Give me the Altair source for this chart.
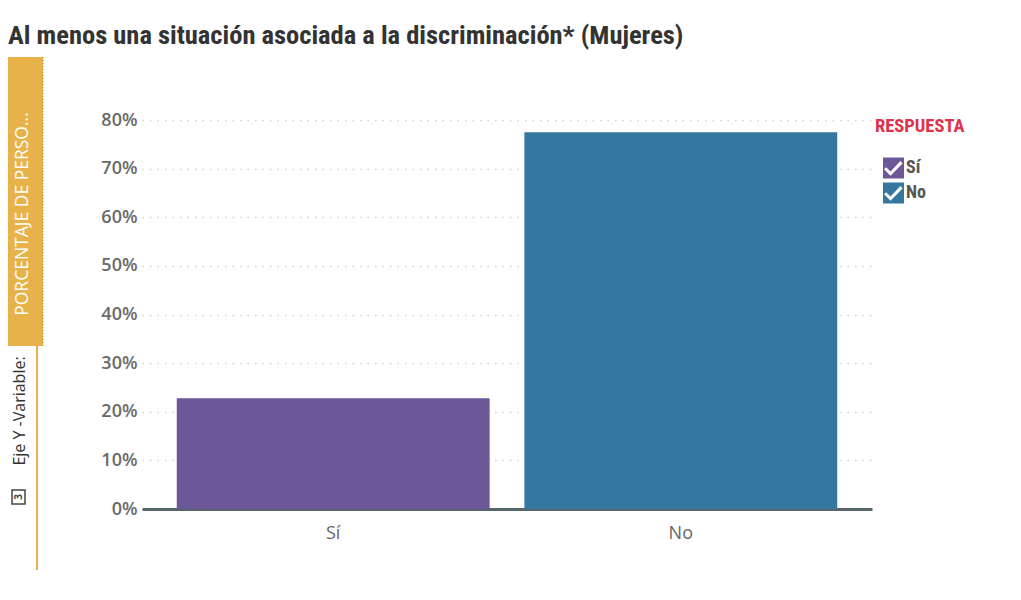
import altair as alt
import pandas as pd

# ---- data ----
categories = ["Sí", "No"]
values = [0.228, 0.775]
bar_colors = ["#6C5899", "#35779F"]
y_ticks = [0, 0.1, 0.2, 0.3, 0.4, 0.5, 0.6, 0.7, 0.8]

title_text = "Al menos una situación asociada a la discriminación* (Mujeres)"
legend_title = "RESPUESTA"
side_top = "PORCENTAJE DE PERSO..."
side_bottom = "Eje Y -Variable:"

df = pd.DataFrame({"respuesta": categories, "valor": values})
one = pd.DataFrame({"a": [0]})

W, H = 730, 389
LEFT, TOP = 134, 112

check_path = ("M-1,-1H1V1H-1Z "
              "M-0.9,0.12L-0.28,0.74L0.86,-0.42L0.66,-0.66L-0.28,0.34L-0.7,-0.08Z")

cond = "'Liberation Sans Narrow', 'Roboto Condensed', Roboto, sans-serif"

bars = alt.Chart(df).mark_bar().encode(
    x=alt.X("respuesta:N", sort=categories,
            scale=alt.Scale(paddingInner=0.1, paddingOuter=0.1),
            axis=alt.Axis(title=None, labelAngle=0, ticks=False,
                          labelFontSize=18, labelColor="#666666",
                          labelFont="Open Sans", labelPadding=15,
                          domainColor="#56666B", domainWidth=3)),
    y=alt.Y("valor:Q", scale=alt.Scale(domain=[0, 0.8]),
            axis=alt.Axis(title=None, values=y_ticks, format=".0%",
                          domain=False, ticks=False, labelPadding=5,
                          labelFontSize=18, labelColor="#6A6A6A",
                          labelFont="Open Sans", labelFontWeight=600,
                          gridColor="#D2D2D2", gridWidth=1.6,
                          gridDash=[1.5, 6])),
    color=alt.Color("respuesta:N", sort=categories,
                    scale=alt.Scale(domain=categories, range=bar_colors),
                    legend=alt.Legend(title=legend_title, orient="none",
                                      legendX=733, legendY=-3,
                                      titleFont=cond, titleFontSize=18.5,
                                      titleFontWeight="bold",
                                      titleColor="#E0314B", titlePadding=22,
                                      labelFont=cond, labelFontSize=18,
                                      labelFontWeight="bold",
                                      labelColor="#555555",
                                      labelOffset=2,
                                      symbolType=check_path, symbolSize=441,
                                      symbolStrokeWidth=0, symbolOpacity=1,
                                      symbolOffset=8, rowPadding=4)),
)

title = alt.Chart(one).mark_text(
    text=title_text, font=cond, fontSize=26.5, fontWeight="bold",
    color="#333333", align="left", baseline="alphabetic"
).encode(x=alt.value(8 - 142), y=alt.value(44 - 120))

side_rect = alt.Chart(one).mark_rect(color="#E8B24A").encode(
    x=alt.value(8 - 142), x2=alt.value(43 - 142),
    y=alt.value(57 - 120), y2=alt.value(346 - 120))

side_border = alt.Chart(one).mark_rule(
    color="#B8862A", strokeDash=[1, 2], strokeWidth=1
).encode(x=alt.value(43 - 142), y=alt.value(57 - 120), y2=alt.value(346 - 120))

side_text = alt.Chart(one).mark_text(
    text=side_top, font="Open Sans", fontSize=17.5, color="#FFFFFF",
    angle=270, align="center", baseline="middle"
).encode(x=alt.value(23 - 142), y=alt.value(214 - 120))

side_line = alt.Chart(one).mark_rule(color="#E8B24A", strokeWidth=2).encode(
    x=alt.value(37 - 142), y=alt.value(346 - 120), y2=alt.value(570 - 120))

side_text2 = alt.Chart(one).mark_text(
    text=side_bottom, font="Open Sans", fontSize=16, color="#333333",
    angle=270, align="center", baseline="middle"
).encode(x=alt.value(20 - 142), y=alt.value(411 - 120))

icon = alt.Chart(one).mark_rect(
    fill="#FFFFFF", stroke="#444444", strokeWidth=1.5
).encode(x=alt.value(12 - 142), x2=alt.value(25 - 142),
         y=alt.value(490 - 120), y2=alt.value(504 - 120))

icon_txt = alt.Chart(one).mark_text(
    text="3", font="Open Sans", fontSize=10, fontWeight="bold",
    color="#444444", angle=270, align="center", baseline="middle"
).encode(x=alt.value(18.5 - 142), y=alt.value(497 - 120))

chart = alt.layer(
    bars, title, side_rect, side_border, side_text, side_line, side_text2,
    icon, icon_txt
).properties(
    width=W, height=H,
    autosize=alt.AutoSizeParams(type="none"),
    padding={"left": LEFT, "top": TOP, "right": 1021 - 16 - LEFT - W,
             "bottom": 584 - TOP - H},
).configure_view(stroke=None)

chart.save("out.html", embed_options={"renderer": "svg", "actions": False})
